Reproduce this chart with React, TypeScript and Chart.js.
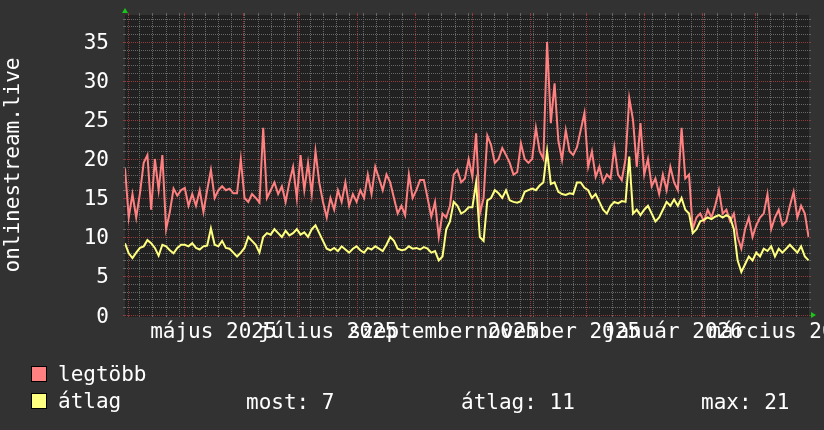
import { useEffect, useRef } from "react";
import { Chart, registerables } from "chart.js";

Chart.register(...registerables);

// Days are counted from 2025-04-01 (day 0); one sample every ~2 days
const START_DAY = -1.6;
const END_DAY = 362.8;
const STEP_DAYS = 1.99;

const legtobb = [
  18.8, 12.5, 15.5, 12.5, 15.6, 19.5, 20.5, 13.5, 20.0, 16.0,
  20.5, 11.0, 13.2, 16.2, 15.3, 16.0, 16.3, 14.0, 15.5, 14.0,
  16.0, 13.2, 16.0, 18.6, 15.0, 16.0, 16.5, 16.0, 16.2, 15.6,
  15.6, 20.0, 15.0, 14.5, 15.5, 15.0, 14.4, 24.0, 15.0, 16.0,
  17.0, 15.5, 16.5, 14.5, 17.0, 19.0, 15.0, 20.5, 16.0, 19.5,
  15.5, 21.0, 17.0, 14.5, 12.5, 15.0, 13.5, 16.0, 14.5, 17.0,
  14.0, 15.5, 14.5, 16.0, 15.0, 18.0, 15.5, 19.0, 17.5, 16.0,
  18.0, 17.0, 15.0, 13.0, 14.0, 12.8, 18.0, 15.0, 16.0, 17.3,
  17.3, 15.0, 12.6, 14.5, 10.0, 13.0, 12.5, 14.0, 18.0, 18.6,
  17.0, 17.5, 20.0, 17.7, 23.3, 13.0, 15.0, 23.0, 21.8, 19.5,
  20.0, 21.4, 20.5, 19.5, 18.0, 18.3, 22.0, 20.0, 19.5, 20.0,
  24.0, 21.0, 20.0, 35.0, 24.6, 29.7, 22.4, 19.9, 23.7, 21.0,
  20.5, 21.5, 23.7, 25.9, 19.0, 21.0, 17.7, 19.0, 17.0, 18.0,
  17.5, 21.5, 18.0, 17.3, 20.0, 27.8, 25.0, 19.0, 24.6, 18.0,
  20.0, 16.5, 17.5, 15.5, 18.0, 16.0, 19.0, 17.0, 16.0, 24.0,
  17.5, 18.0, 11.0, 12.5, 13.0, 12.0, 13.5, 12.5, 14.0, 16.0,
  13.0, 13.5, 12.0, 13.0, 10.0, 8.5, 11.0, 12.5, 10.0, 11.5,
  12.5, 13.0, 15.5, 11.0, 12.5, 13.5, 11.5, 12.0, 14.0, 15.8,
  12.5, 14.0, 13.0, 10.0,
];

const atlag = [
  9.2, 7.9, 7.3, 8.0, 8.6, 8.8, 9.6, 9.2, 8.6, 7.6,
  9.0, 8.8, 8.3, 7.9, 8.6, 9.0, 9.0, 8.8, 9.2, 8.6,
  8.4, 8.8, 8.9, 11.1, 9.0, 8.8, 9.5, 8.6, 8.5, 8.0,
  7.5, 8.0, 8.6, 10.0, 9.5, 9.0, 8.0, 10.0, 10.5, 10.3,
  11.0, 10.5, 10.0, 10.8, 10.2, 10.5, 11.0, 10.3, 10.6, 10.0,
  11.0, 11.5, 10.5, 9.5, 8.5, 8.3, 8.6, 8.2, 8.8, 8.4,
  8.0, 8.5, 8.8, 8.3, 8.0, 8.6, 8.4, 8.8, 8.5, 8.2,
  9.0, 10.0, 9.5, 8.5, 8.3, 8.4, 8.8, 8.5, 8.6, 8.4,
  8.7, 8.5, 8.0, 8.2, 7.0, 7.5, 11.0, 12.0, 14.5, 14.0,
  13.0, 13.3, 13.8, 13.8, 17.0, 10.0, 9.5, 14.7, 15.0, 16.0,
  15.6, 15.0, 16.0, 14.7, 14.5, 14.4, 14.6, 15.8, 16.0, 16.2,
  16.0, 16.6, 17.0, 21.0, 16.8, 17.0, 15.8, 15.5, 15.4, 15.6,
  15.5, 17.0, 17.0, 16.3, 16.0, 15.0, 15.5, 14.5, 13.5, 13.0,
  14.0, 14.5, 14.3, 14.6, 14.5, 20.3, 13.0, 13.5, 12.8, 13.5,
  14.0, 13.0, 12.0, 12.5, 13.5, 14.5, 14.0, 14.8, 14.0, 15.0,
  13.5, 13.0, 10.5, 11.0, 12.0, 12.2, 12.5, 12.3, 12.6, 12.8,
  12.5, 12.8, 12.5, 11.0, 7.0, 5.5, 6.5, 7.5, 7.0, 8.0,
  7.5, 8.5, 8.2, 8.8, 7.5, 8.5, 8.0, 8.5, 9.0, 8.5,
  8.0, 8.8, 7.5, 7.0,
];

const Y_MAX = 38.46;
const yTicks = [0, 5, 10, 15, 20, 25, 30, 35];
// month starts (days since 2025-04-01): Apr .. Mar, plus Apr 2026
const monthStarts = [0, 30, 61, 91, 122, 153, 183, 214, 244, 275, 306, 334, 365];
const labelNames = ["május 2025", "július 2025", "szeptember 2025", "november 2025", "január 2026", "március 2026"];
const labelMonthIdx = [1, 3, 5, 7, 9, 11];
const FIRST_MONDAY = 6; // 2025-04-07

const legendNames = ["legtöbb", "átlag"];
const legendStats = ["most: 7", "átlag: 11", "max: 21"];

const PINK = "#ff8080";
const YELLOW = "#ffff80";
const BG = "#323232";
const PLOT_BG = "#212121";
const MINOR = "#666666";
const MAJOR = "#8e3c3c";
const FONT = "21px 'DejaVu Sans Mono', monospace";

const rrdPlugin = {
  id: "rrd",
  beforeDraw(chart: any) {
    const { ctx, chartArea: a, scales } = chart;
    const xs = scales.x;
    const ys = scales.y;
    ctx.save();
    ctx.fillStyle = BG;
    ctx.fillRect(0, 0, chart.width, chart.height);
    ctx.fillStyle = PLOT_BG;
    ctx.fillRect(a.left, a.top, a.right - a.left, a.bottom - a.top + 2);
    ctx.lineWidth = 1;

    const hLine = (v: number, color: string) => {
      const p = Math.round(ys.getPixelForValue(v)) + 0.5;
      ctx.strokeStyle = color;
      ctx.setLineDash([1, 1]);
      ctx.beginPath();
      ctx.moveTo(a.left, p);
      ctx.lineTo(a.right, p);
      ctx.stroke();
      ctx.setLineDash([]);
      ctx.beginPath();
      ctx.moveTo(a.left - 2, p);
      ctx.lineTo(a.left, p);
      ctx.moveTo(a.right, p);
      ctx.lineTo(a.right + 2, p);
      ctx.stroke();
    };
    const vLine = (d: number, color: string) => {
      const p = Math.round(xs.getPixelForValue(d)) + 0.5;
      ctx.strokeStyle = color;
      ctx.setLineDash([1, 1]);
      ctx.beginPath();
      ctx.moveTo(p, a.top);
      ctx.lineTo(p, a.bottom);
      ctx.stroke();
      ctx.setLineDash([]);
      ctx.beginPath();
      ctx.moveTo(p, a.top - 2);
      ctx.lineTo(p, a.top);
      ctx.moveTo(p, a.bottom);
      ctx.lineTo(p, a.bottom + 2);
      ctx.stroke();
    };

    for (let v = 1; v < Y_MAX; v++) if (v % 5 !== 0) hLine(v, MINOR);
    for (let d = FIRST_MONDAY; d < END_DAY; d += 7) vLine(d, MINOR);
    yTicks.forEach((v) => hLine(v, MAJOR));
    monthStarts.forEach((d) => {
      if (d > START_DAY && d < END_DAY) vLine(d, MAJOR);
    });
    ctx.restore();
  },
  afterDraw(chart: any) {
    const { ctx, chartArea: a, scales } = chart;
    const xs = scales.x;
    const ys = scales.y;
    ctx.save();
    // arrows
    ctx.fillStyle = "#18c818";
    ctx.beginPath();
    ctx.moveTo(a.left - 3, a.top - 2);
    ctx.lineTo(a.left + 3, a.top - 2);
    ctx.lineTo(a.left, a.top - 7);
    ctx.closePath();
    ctx.fill();
    ctx.beginPath();
    ctx.moveTo(a.right + 2, a.bottom - 3);
    ctx.lineTo(a.right + 2, a.bottom + 3);
    ctx.lineTo(a.right + 7, a.bottom);
    ctx.closePath();
    ctx.fill();

    ctx.fillStyle = "#ffffff";
    ctx.font = FONT;
    // y tick labels
    ctx.textAlign = "right";
    ctx.textBaseline = "alphabetic";
    yTicks.forEach((v) => {
      const p = ys.getPixelForValue(v);
      ctx.fillText(String(v), 109, p + 7.5);
    });
    // x labels
    ctx.textAlign = "center";
    labelNames.forEach((name, i) => {
      const k = labelMonthIdx[i];
      const mid = (monthStarts[k] + monthStarts[k + 1]) / 2;
      ctx.fillText(name, xs.getPixelForValue(mid), 338);
    });
    // y title
    ctx.save();
    ctx.translate(19, (a.top + a.bottom) / 2);
    ctx.rotate(-Math.PI / 2);
    ctx.textAlign = "center";
    ctx.fillText("onlinestream.live", 0, 0);
    ctx.restore();

    // legend
    const sw = [PINK, YELLOW];
    const rows = [366, 393];
    ctx.textAlign = "left";
    rows.forEach((ry, i) => {
      ctx.fillStyle = sw[i];
      ctx.fillRect(31, ry, 16, 16);
      ctx.strokeStyle = "#000000";
      ctx.lineWidth = 1;
      ctx.strokeRect(31.5, ry + 0.5, 15, 15);
      ctx.fillStyle = "#ffffff";
      ctx.fillText(legendNames[i], 58, ry + 14.5);
    });
    const statX = [246, 461, 701];
    legendStats.forEach((s, i) => ctx.fillText(s, statX[i], 408.5));
    ctx.restore();
  },
};

export default function App() {
  const ref = useRef<HTMLCanvasElement>(null);
  useEffect(() => {
    if (!ref.current) return;
    const toPoints = (arr: number[]) => arr.map((v, i) => ({ x: START_DAY + i * STEP_DAYS, y: v }));
    const chart = new Chart(ref.current, {
      type: "line",
      data: {
        datasets: [
          { label: legendNames[0], data: toPoints(legtobb), borderColor: PINK, borderWidth: 2, pointRadius: 0, tension: 0, order: 2 },
          { label: legendNames[1], data: toPoints(atlag), borderColor: YELLOW, borderWidth: 2, pointRadius: 0, tension: 0, order: 1 },
        ],
      },
      options: {
        responsive: false,
        maintainAspectRatio: false,
        animation: false,
        devicePixelRatio: 1,
        layout: { padding: { left: 125, top: 15, right: 15, bottom: 115 } },
        scales: {
          x: { type: "linear", min: START_DAY, max: END_DAY, display: false },
          y: { type: "linear", min: 0, max: Y_MAX, display: false },
        },
        plugins: { legend: { display: false }, tooltip: { enabled: false } },
      },
      plugins: [rrdPlugin],
    });
    return () => chart.destroy();
  }, []);
  return (
    <div style={{ position: "absolute", left: 0, top: 0, width: 824, height: 430 }}>
      <canvas ref={ref} width={824} height={430} style={{ display: "block", width: 824, height: 430 }} />
    </div>
  );
}
